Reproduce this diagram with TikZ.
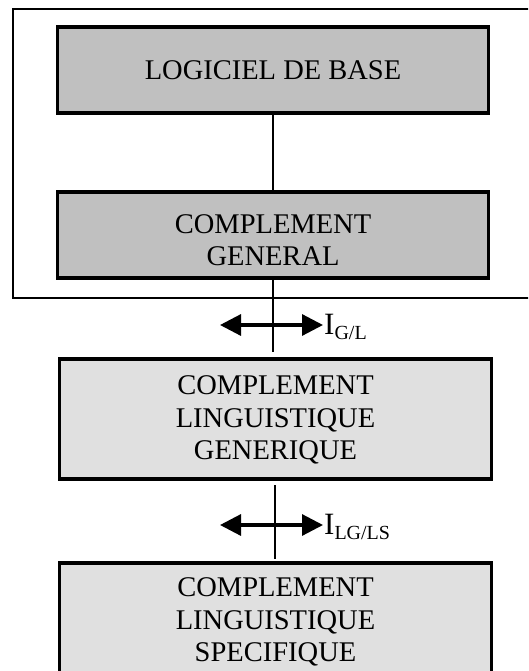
\documentclass[tikz,border=0pt]{standalone}
\usepackage{fontspec}
\setmainfont{Liberation Serif}
\usetikzlibrary{arrows.meta}
\definecolor{darkfill}{HTML}{C0C0C0}
\definecolor{lightfill}{HTML}{E0E0E0}
\begin{document}
\begin{tikzpicture}[x=1pt,y=-1pt,
  boxtext/.style={font=\fontsize{28.5}{32.5}\selectfont, align=center, text=black, inner sep=0pt},
  darkbox/.style={draw=black, line width=3.6pt, fill=darkfill, minimum width=431pt, minimum height=86pt, inner sep=0pt},
  lightbox/.style={draw=black, line width=3.6pt, fill=lightfill, minimum width=432pt, minimum height=120pt, inner sep=0pt},
  frameline/.style={draw=black, line width=2.2pt},
  link/.style={draw=black, line width=2.6pt},
  ifarrow/.style={draw=black, line width=3.2pt, {Triangle[length=21pt,width=21pt]}-{Triangle[length=21pt,width=21pt]}},
  iflabel/.style={anchor=base west, inner sep=0pt, font=\fontsize{31}{31}\selectfont}
]
\useasboundingbox (0,0) rectangle (528,671);
\clip (0,0) rectangle (528,671);
\fill[white] (0,0) rectangle (528,671);

% outer frame (open to the right)
\draw[frameline] (545,9) -- (13,9) -- (13,298) -- (545,298);

% boxes
\node[darkbox] (b1) at (273,70) {};
\node[boxtext] (t1) at (b1.center) {LOGICIEL DE BASE};
\node[darkbox] (b2) at (273,235) {};
\node[boxtext] (t2) at ([yshift=-5pt]b2.center) {COMPLEMENT\\GENERAL};
\node[lightbox] (b3) at (275.5,419) {};
\node[boxtext] (t3) at ([yshift=-1pt]b3.center) {COMPLEMENT\\LINGUISTIQUE\\GENERIQUE};
\node[lightbox] (b4) at (275.5,623) {};
\node[boxtext] (t4) at ([yshift=1pt]b4.center) {COMPLEMENT\\LINGUISTIQUE\\SPECIFIQUE};

% connectors
\coordinate (c2end) at (275,352);
\coordinate (c3start) at (275,485);
\coordinate (c3end) at (275,559);
\draw[link] (b1.south) -- (b2.north);
\draw[link] (b2.south) -- (b2.south |- c2end);
\draw[link] (c3start) -- (c3end);

% interface arrows
\coordinate (a1l) at (220,325);
\coordinate (a1r) at (323,325);
\coordinate (a2l) at (220,525);
\coordinate (a2r) at (323,525);
\draw[ifarrow] (a1l) -- (a1r);
\draw[ifarrow] (a2l) -- (a2r);

\node[iflabel] (l1) at (324,334) {I\raisebox{-5pt}{\fontsize{20}{20}\selectfont G/L}};
\node[iflabel] (l2) at (324,534) {I\raisebox{-5pt}{\fontsize{20}{20}\selectfont LG/LS}};
\end{tikzpicture}
\end{document}
